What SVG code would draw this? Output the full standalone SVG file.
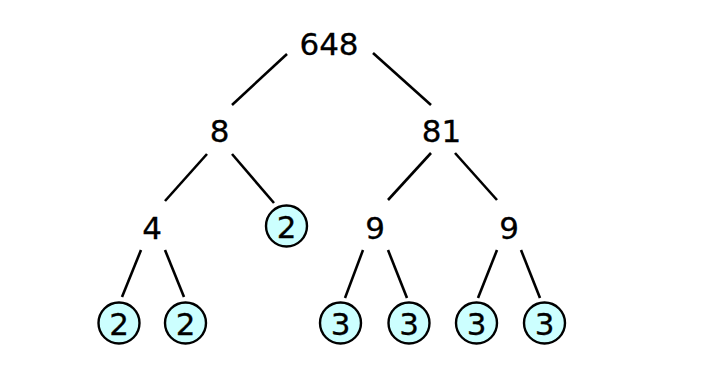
<svg xmlns="http://www.w3.org/2000/svg" width="704" height="381" viewBox="0 0 704 381">
<style>
text{font-family:"DejaVu Sans",Verdana,sans-serif;font-size:31px;text-anchor:middle;fill:#000;stroke:#000;stroke-width:0.3}
.c{fill:#ccffff;stroke:#000;stroke-width:2.4}
#edges line{stroke:#000;stroke-width:2.6;stroke-linecap:butt}
</style>
<rect width="704" height="381" fill="#fff"/>
<g id="edges">
<line x1="287" y1="54" x2="232" y2="105"/>
<line x1="373" y1="53" x2="431" y2="105"/>
<line x1="207" y1="154" x2="165" y2="201"/>
<line x1="232" y1="154" x2="274" y2="203"/>
<line x1="431" y1="153" x2="388" y2="200"/>
<line x1="455" y1="153" x2="497" y2="200"/>
<line x1="141" y1="250" x2="122" y2="297"/>
<line x1="165" y1="250" x2="184" y2="297"/>
<line x1="363" y1="250" x2="345" y2="298"/>
<line x1="388" y1="250" x2="407" y2="298"/>
<line x1="497" y1="250" x2="478" y2="298"/>
<line x1="521" y1="250" x2="540" y2="298"/>
</g>
<g id="n648"><text x="329" y="54.5">648</text></g>
<g id="n8"><text x="219.5" y="141.5">8</text></g>
<g id="n81"><text x="441.5" y="141.5">81</text></g>
<g id="n4"><text x="152" y="238.5">4</text></g>
<g id="n2a"><circle class="c" cx="286.5" cy="226" r="20.5"/><text x="286.5" y="237.5">2</text></g>
<g id="n9a"><text x="375" y="238.5">9</text></g>
<g id="n9b"><text x="509" y="238.5">9</text></g>
<g id="n2b"><circle class="c" cx="119" cy="323" r="20.5"/><text x="119" y="334.5">2</text></g>
<g id="n2c"><circle class="c" cx="185.5" cy="323" r="20.5"/><text x="185.5" y="334.5">2</text></g>
<g id="n3a"><circle class="c" cx="340.5" cy="323" r="20.5"/><text x="340.5" y="334.5">3</text></g>
<g id="n3b"><circle class="c" cx="409" cy="323" r="20.5"/><text x="409" y="334.5">3</text></g>
<g id="n3c"><circle class="c" cx="476.5" cy="323" r="20.5"/><text x="476.5" y="334.5">3</text></g>
<g id="n3d"><circle class="c" cx="544.5" cy="323" r="20.5"/><text x="544.5" y="334.5">3</text></g>
</svg>
